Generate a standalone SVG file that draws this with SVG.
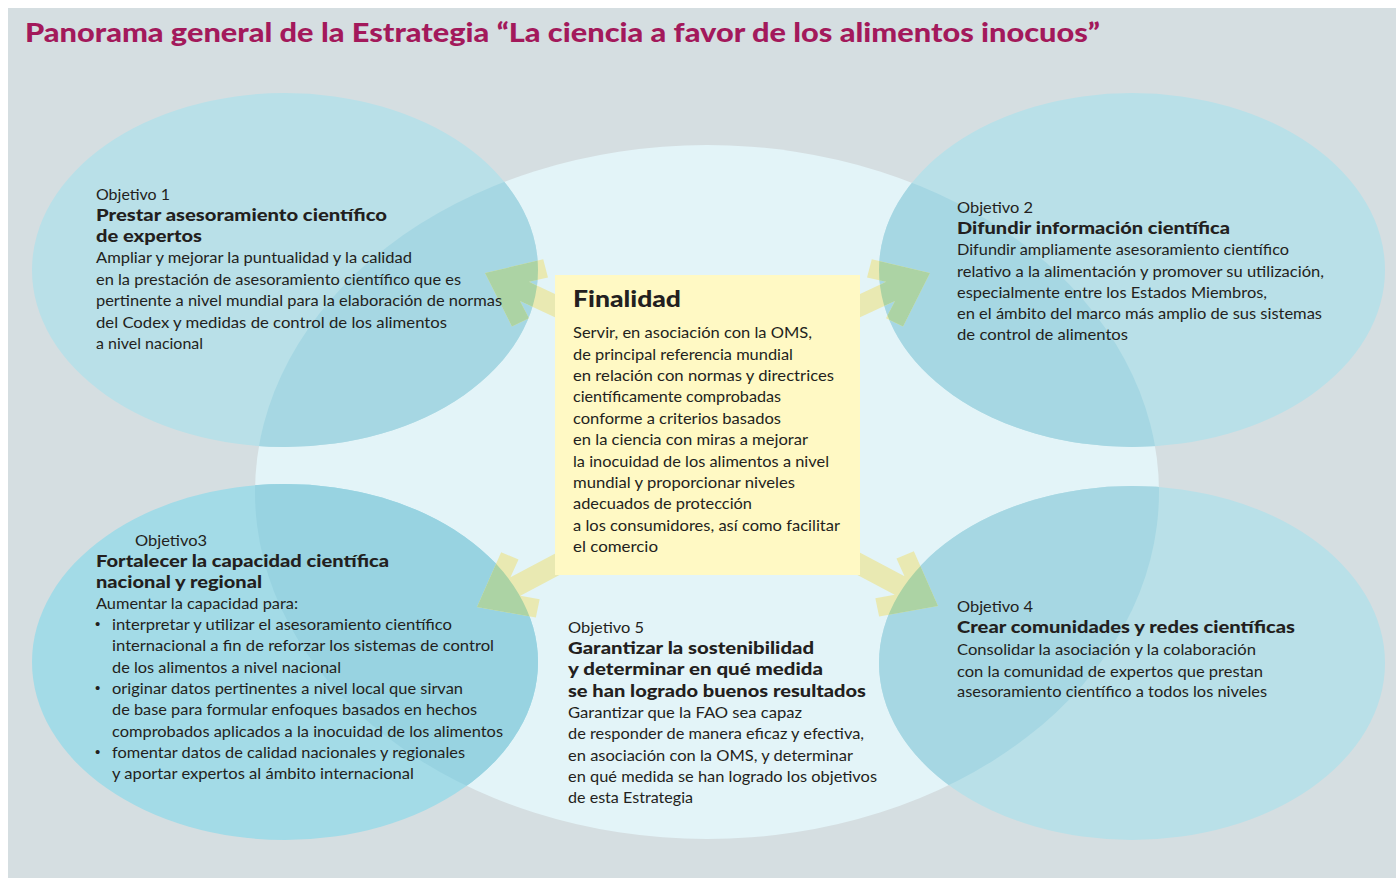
<svg xmlns="http://www.w3.org/2000/svg" width="1396" height="878" viewBox="0 0 1396 878">
<style>
.t{font-family:Lato,"Liberation Sans",sans-serif;font-size:16px;fill:#231f20;}
.b{font-family:Lato,"Liberation Sans",sans-serif;font-size:16.5px;font-weight:900;fill:#231f20;}
.bul{font-family:"Liberation Sans",sans-serif;font-size:15px;fill:#231f20;}
.title{font-family:Lato,"Liberation Sans",sans-serif;font-size:26px;font-weight:900;fill:#a3195b;}
.fin{font-family:Lato,"Liberation Sans",sans-serif;font-size:23px;font-weight:900;fill:#231f20;}
.arrow{fill:#e9e9b2;}
.arrowg{fill:#acd3a4;}
</style>
<defs>
<clipPath id="outer">
<ellipse cx="285" cy="270" rx="253" ry="177"/>
<ellipse cx="1132" cy="270" rx="253" ry="177"/>
<ellipse cx="285" cy="662" rx="253" ry="178"/>
<ellipse cx="1132" cy="663" rx="253" ry="177"/>
</clipPath>
<clipPath id="cTL"><ellipse cx="285" cy="270" rx="253" ry="177"/></clipPath>
<clipPath id="cTR"><ellipse cx="1132" cy="270" rx="253" ry="177"/></clipPath>
<clipPath id="cBL"><ellipse cx="285" cy="662" rx="253" ry="178"/></clipPath>
<clipPath id="cBR"><ellipse cx="1132" cy="663" rx="253" ry="177"/></clipPath>
<ellipse id="cen" cx="707" cy="492" rx="452" ry="347"/>
<polygon id="arr" points="0,0 -47,-37 -59,-22.5 -43.5,-10.5 -130,-10.5 -130,10.5 -43.5,10.5 -59,22.5 -47,37"/>
</defs>
<rect x="0" y="0" width="1396" height="878" fill="#ffffff"/>
<rect x="8" y="8" width="1388" height="870" fill="#d5dee1"/>
<text class="title" x="25" y="42" textLength="1075" lengthAdjust="spacingAndGlyphs">Panorama general de la Estrategia “La ciencia a favor de los alimentos inocuos”</text>

<g id="shapes">
<use href="#cen" fill="#e3f4f8"/>
<ellipse cx="285" cy="270" rx="253" ry="177" fill="#b9e0e8"/>
<ellipse cx="1132" cy="270" rx="253" ry="177" fill="#b9e0e8"/>
<ellipse cx="285" cy="662" rx="253" ry="178" fill="#a3dbe7"/>
<ellipse cx="1132" cy="663" rx="253" ry="177" fill="#b9e0e8"/>
<use href="#cen" fill="#a6d7e3" clip-path="url(#cTL)"/>
<use href="#cen" fill="#a6d7e3" clip-path="url(#cTR)"/>
<use href="#cen" fill="#98d3e1" clip-path="url(#cBL)"/>
<use href="#cen" fill="#a6d7e3" clip-path="url(#cBR)"/>
</g>

<g id="connectors">
<use href="#arr" class="arrow" transform="translate(485,273) rotate(205)"/>
<use href="#arr" class="arrow" transform="translate(930,273) rotate(-25)"/>
<use href="#arr" class="arrow" transform="translate(477,607) rotate(152)"/>
<use href="#arr" class="arrow" transform="translate(938,606) rotate(28)"/>
<g clip-path="url(#outer)">
<use href="#arr" class="arrowg" transform="translate(485,273) rotate(205)"/>
<use href="#arr" class="arrowg" transform="translate(930,273) rotate(-25)"/>
<use href="#arr" class="arrowg" transform="translate(477,607) rotate(152)"/>
<use href="#arr" class="arrowg" transform="translate(938,606) rotate(28)"/>
</g>
</g>

<g id="finalidad">
<rect x="555" y="275" width="305" height="300" fill="#fff9c4"/>
<text class="fin" x="573" y="307" textLength="108" lengthAdjust="spacingAndGlyphs">Finalidad</text>
<text class="t" x="573" y="338" textLength="239" lengthAdjust="spacingAndGlyphs">Servir, en asociación con la OMS,</text>
<text class="t" x="573" y="360" textLength="220" lengthAdjust="spacingAndGlyphs">de principal referencia mundial</text>
<text class="t" x="573" y="381" textLength="261" lengthAdjust="spacingAndGlyphs">en relación con normas y directrices</text>
<text class="t" x="573" y="402" textLength="208" lengthAdjust="spacingAndGlyphs">científicamente comprobadas</text>
<text class="t" x="573" y="424" textLength="208" lengthAdjust="spacingAndGlyphs">conforme a criterios basados</text>
<text class="t" x="573" y="445" textLength="235" lengthAdjust="spacingAndGlyphs">en la ciencia con miras a mejorar</text>
<text class="t" x="573" y="467" textLength="256" lengthAdjust="spacingAndGlyphs">la inocuidad de los alimentos a nivel</text>
<text class="t" x="573" y="488" textLength="222" lengthAdjust="spacingAndGlyphs">mundial y proporcionar niveles</text>
<text class="t" x="573" y="509" textLength="179" lengthAdjust="spacingAndGlyphs">adecuados de protección</text>
<text class="t" x="573" y="531" textLength="267" lengthAdjust="spacingAndGlyphs">a los consumidores, así como facilitar</text>
<text class="t" x="573" y="552" textLength="85" lengthAdjust="spacingAndGlyphs">el comercio</text>
</g>

<g id="objetivo1">
<text class="t" x="96" y="200" textLength="74" lengthAdjust="spacingAndGlyphs">Objetivo 1</text>
<text class="b" x="96" y="221" textLength="291" lengthAdjust="spacingAndGlyphs">Prestar asesoramiento científico</text>
<text class="b" x="96" y="242" textLength="106" lengthAdjust="spacingAndGlyphs">de expertos</text>
<text class="t" x="96" y="263" textLength="316" lengthAdjust="spacingAndGlyphs">Ampliar y mejorar la puntualidad y la calidad</text>
<text class="t" x="96" y="285" textLength="365" lengthAdjust="spacingAndGlyphs">en la prestación de asesoramiento científico que es</text>
<text class="t" x="96" y="306" textLength="406" lengthAdjust="spacingAndGlyphs">pertinente a nivel mundial para la elaboración de normas</text>
<text class="t" x="96" y="328" textLength="351" lengthAdjust="spacingAndGlyphs">del Codex y medidas de control de los alimentos</text>
<text class="t" x="96" y="349" textLength="107" lengthAdjust="spacingAndGlyphs">a nivel nacional</text>
</g>

<g id="objetivo2">
<text class="t" x="957" y="213" textLength="76" lengthAdjust="spacingAndGlyphs">Objetivo 2</text>
<text class="b" x="957" y="234" textLength="273" lengthAdjust="spacingAndGlyphs">Difundir información científica</text>
<text class="t" x="957" y="255" textLength="332" lengthAdjust="spacingAndGlyphs">Difundir ampliamente asesoramiento científico</text>
<text class="t" x="957" y="277" textLength="367" lengthAdjust="spacingAndGlyphs">relativo a la alimentación y promover su utilización,</text>
<text class="t" x="957" y="298" textLength="310" lengthAdjust="spacingAndGlyphs">especialmente entre los Estados Miembros,</text>
<text class="t" x="957" y="319" textLength="365" lengthAdjust="spacingAndGlyphs">en el ámbito del marco más amplio de sus sistemas</text>
<text class="t" x="957" y="340" textLength="171" lengthAdjust="spacingAndGlyphs">de control de alimentos</text>
</g>

<g id="objetivo3">
<text class="t" x="135" y="546" textLength="72" lengthAdjust="spacingAndGlyphs">Objetivo3</text>
<text class="b" x="96" y="567" textLength="293" lengthAdjust="spacingAndGlyphs">Fortalecer la capacidad científica</text>
<text class="b" x="96" y="588" textLength="166" lengthAdjust="spacingAndGlyphs">nacional y regional</text>
<text class="t" x="96" y="609" textLength="202" lengthAdjust="spacingAndGlyphs">Aumentar la capacidad para:</text>
<text class="bul" x="95" y="629">•</text>
<text class="t" x="112" y="630" textLength="340" lengthAdjust="spacingAndGlyphs">interpretar y utilizar el asesoramiento científico</text>
<text class="t" x="112" y="651" textLength="382" lengthAdjust="spacingAndGlyphs">internacional a fin de reforzar los sistemas de control</text>
<text class="t" x="112" y="673" textLength="229" lengthAdjust="spacingAndGlyphs">de los alimentos a nivel nacional</text>
<text class="bul" x="95" y="693">•</text>
<text class="t" x="112" y="694" textLength="351" lengthAdjust="spacingAndGlyphs">originar datos pertinentes a nivel local que sirvan</text>
<text class="t" x="112" y="715" textLength="365" lengthAdjust="spacingAndGlyphs">de base para formular enfoques basados en hechos</text>
<text class="t" x="112" y="737" textLength="391" lengthAdjust="spacingAndGlyphs">comprobados aplicados a la inocuidad de los alimentos</text>
<text class="bul" x="95" y="757">•</text>
<text class="t" x="112" y="758" textLength="353" lengthAdjust="spacingAndGlyphs">fomentar datos de calidad nacionales y regionales</text>
<text class="t" x="112" y="779" textLength="302" lengthAdjust="spacingAndGlyphs">y aportar expertos al ámbito internacional</text>
</g>

<g id="objetivo4">
<text class="t" x="957" y="612" textLength="76" lengthAdjust="spacingAndGlyphs">Objetivo 4</text>
<text class="b" x="957" y="633" textLength="338" lengthAdjust="spacingAndGlyphs">Crear comunidades y redes científicas</text>
<text class="t" x="957" y="655" textLength="299" lengthAdjust="spacingAndGlyphs">Consolidar la asociación y la colaboración</text>
<text class="t" x="957" y="677" textLength="306" lengthAdjust="spacingAndGlyphs">con la comunidad de expertos que prestan</text>
<text class="t" x="957" y="697" textLength="310" lengthAdjust="spacingAndGlyphs">asesoramiento científico a todos los niveles</text>
</g>

<g id="objetivo5">
<text class="t" x="568" y="633" textLength="76" lengthAdjust="spacingAndGlyphs">Objetivo 5</text>
<text class="b" x="568" y="654" textLength="246" lengthAdjust="spacingAndGlyphs">Garantizar la sostenibilidad</text>
<text class="b" x="568" y="675" textLength="255" lengthAdjust="spacingAndGlyphs">y determinar en qué medida</text>
<text class="b" x="568" y="697" textLength="298" lengthAdjust="spacingAndGlyphs">se han logrado buenos resultados</text>
<text class="t" x="568" y="718" textLength="234" lengthAdjust="spacingAndGlyphs">Garantizar que la FAO sea capaz</text>
<text class="t" x="568" y="739" textLength="296" lengthAdjust="spacingAndGlyphs">de responder de manera eficaz y efectiva,</text>
<text class="t" x="568" y="761" textLength="285" lengthAdjust="spacingAndGlyphs">en asociación con la OMS, y determinar</text>
<text class="t" x="568" y="782" textLength="309" lengthAdjust="spacingAndGlyphs">en qué medida se han logrado los objetivos</text>
<text class="t" x="568" y="803" textLength="125" lengthAdjust="spacingAndGlyphs">de esta Estrategia</text>
</g>
</svg>
